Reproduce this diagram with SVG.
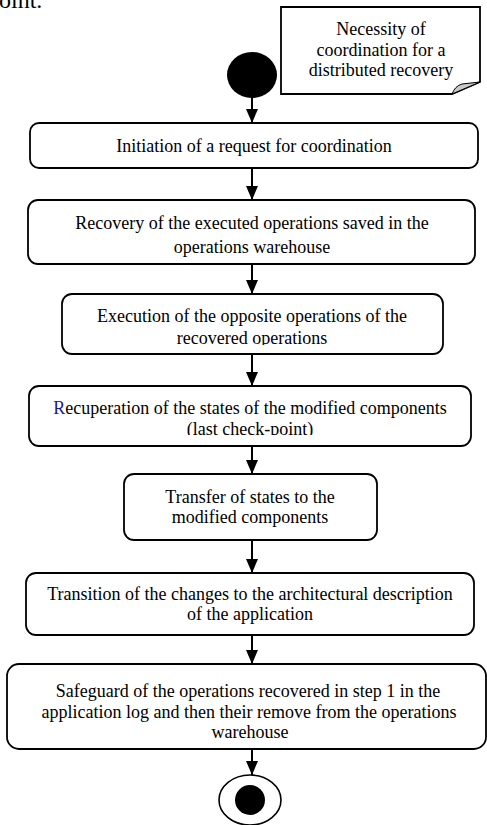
<svg xmlns="http://www.w3.org/2000/svg" width="487" height="825" viewBox="0 0 487 825">
<style>
.t{font-family:"Liberation Serif","Times New Roman",serif;font-size:18px;fill:#000;text-anchor:middle}
.b{fill:#fff;stroke:#000;stroke-width:1.8}
.c{stroke:#000;stroke-width:2;fill:none}
</style>
<defs>
<marker id="ah" markerWidth="14" markerHeight="12" refX="14" refY="6" orient="auto" markerUnits="userSpaceOnUse">
<path d="M0,0 L14,6 L0,12 z" fill="#000"/>
</marker>
<clipPath id="c3"><rect x="60" y="290" width="390" height="55"/></clipPath>
<clipPath id="c4"><rect x="25" y="385" width="450" height="50"/></clipPath>
</defs>
<rect width="487" height="825" fill="#fff"/>
<text x="-13" y="8" style="font-family:'Liberation Serif','Times New Roman',serif;font-size:24px">point.</text>
<g id="note">
<path d="M281,7 L480,7 L480,82 L452,94 L281,94 z" class="b"/>
<path d="M452,94 Q455,86 462,84 L480,82 z" fill="#c8c8c8" stroke="#000" stroke-width="1"/>
<text class="t" x="381" y="35">Necessity of</text>
<text class="t" x="381" y="56">coordination for a</text>
<text class="t" x="381" y="76">distributed recovery</text>
</g>
<g id="start"><ellipse cx="252" cy="75" rx="25" ry="23" fill="#000"/></g>
<g id="n1">
<rect x="30" y="123" width="448" height="45" rx="9" class="b"/>
<text class="t" x="254" y="152">Initiation of a request for coordination</text>
</g>
<g id="n2">
<rect x="28" y="200" width="447" height="64" rx="10" class="b"/>
<text class="t" x="252" y="229">Recovery of the executed operations saved in the</text>
<text class="t" x="252" y="253">operations warehouse</text>
</g>
<g id="n3">
<rect x="62" y="294" width="381" height="60" rx="10" class="b"/>
<g clip-path="url(#c3)">
<text class="t" x="252" y="322">Execution of the opposite operations of the</text>
<text class="t" x="252" y="344">recovered operations</text>
</g>
</g>
<g id="n4">
<rect x="29" y="386" width="442" height="60" rx="10" class="b"/>
<g clip-path="url(#c4)">
<text class="t" x="250" y="414"><tspan fill="#1a1a8c">R</tspan>ecuperation of the states of the modified components</text>
<text class="t" x="250" y="435">(last check-point)</text>
</g>
</g>
<g id="n5">
<rect x="124" y="474" width="253" height="66" rx="10" class="b"/>
<text class="t" x="250" y="503">Transfer of states to the</text>
<text class="t" x="250" y="523">modified components</text>
</g>
<g id="n6">
<rect x="26" y="573" width="448" height="62" rx="10" class="b"/>
<text class="t" x="250" y="600">Transition of the changes to the architectural description</text>
<text class="t" x="250" y="620">of the application</text>
</g>
<g id="n7">
<rect x="7" y="664" width="479" height="85" rx="12" class="b"/>
<text class="t" x="248" y="697">Safeguard of the operations recovered in step 1 in the</text>
<text class="t" x="249" y="718">application log and then their remove from the operations</text>
<text class="t" x="250" y="738">warehouse</text>
</g>
<g id="end">
<ellipse cx="250" cy="800" rx="31" ry="25" fill="#fff" stroke="#000" stroke-width="1.6"/>
<circle cx="250" cy="800" r="15" fill="#000"/>
</g>
<g id="connectors">
<line x1="252" y1="97" x2="252" y2="123" class="c" marker-end="url(#ah)"/>
<line x1="252" y1="168" x2="252" y2="200" class="c" marker-end="url(#ah)"/>
<line x1="252" y1="264" x2="252" y2="294" class="c" marker-end="url(#ah)"/>
<line x1="252" y1="354" x2="252" y2="386" class="c" marker-end="url(#ah)"/>
<line x1="252" y1="446" x2="252" y2="474" class="c" marker-end="url(#ah)"/>
<line x1="252" y1="540" x2="252" y2="573" class="c" marker-end="url(#ah)"/>
<line x1="252" y1="635" x2="252" y2="664" class="c" marker-end="url(#ah)"/>
<line x1="252" y1="749" x2="252" y2="775" class="c" marker-end="url(#ah)"/>
</g>
</svg>
